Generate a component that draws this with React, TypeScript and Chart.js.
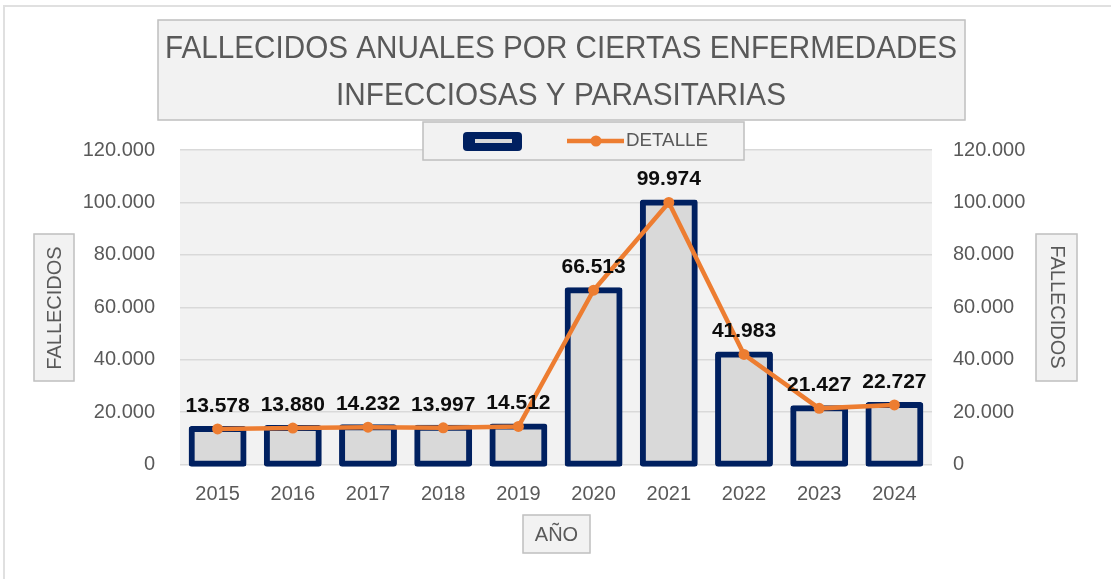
import React, { useEffect, useRef } from "react";
import { Chart, registerables } from "chart.js";

Chart.register(...registerables);

const categories = ["2015", "2016", "2017", "2018", "2019", "2020", "2021", "2022", "2023", "2024"];
const fallecidos = [13578, 13880, 14232, 13997, 14512, 66513, 99974, 41983, 21427, 22727];
const detalle = [13578, 13880, 14232, 13997, 14512, 66513, 99974, 41983, 21427, 22727];
const titleLines = ["FALLECIDOS ANUALES POR CIERTAS ENFERMEDADES", "INFECCIOSAS Y PARASITARIAS"];
const yAxisTitle = "FALLECIDOS";
const xAxisTitle = "AÑO";
const lineLabel = "DETALLE";
const yMin = 0;
const yMax = 120000;
const yStep = 20000;

const FONT = "'Liberation Sans', Arial, sans-serif";
const NAVY = "#002060";
const BAR_FILL = "#d9d9d9";
const ORANGE = "#ED7D31";
const TEXT_GRAY = "#595959";
const BOX_BG = "#f2f2f2";
const BOX_BORDER = "#bfbfbf";

const fmt = (v: number) => String(Math.round(v)).replace(/\B(?=(\d{3})+(?!\d))/g, ".");

function box(ctx: CanvasRenderingContext2D, x: number, y: number, w: number, h: number) {
  ctx.save();
  ctx.fillStyle = BOX_BG;
  ctx.fillRect(x, y, w, h);
  ctx.strokeStyle = BOX_BORDER;
  ctx.lineWidth = 1.5;
  ctx.strokeRect(x, y, w, h);
  ctx.restore();
}

const decorPlugin = {
  id: "decor",
  beforeDraw(chart: any) {
    const { ctx, chartArea } = chart;
    ctx.save();
    ctx.fillStyle = "#ffffff";
    ctx.fillRect(0, 0, chart.width, chart.height);
    ctx.strokeStyle = "#e0e0e0";
    ctx.lineWidth = 2;
    ctx.beginPath();
    ctx.moveTo(4, chart.height + 2);
    ctx.lineTo(4, 6);
    ctx.lineTo(chart.width + 2, 6);
    ctx.stroke();
    ctx.fillStyle = BOX_BG;
    ctx.fillRect(chartArea.left, chartArea.top, chartArea.right - chartArea.left, chartArea.bottom - chartArea.top);
    ctx.restore();
  },
  afterDatasetsDraw(chart: any) {
    const { ctx } = chart;
    const meta = chart.getDatasetMeta(0);
    const yScale = chart.scales.y;
    ctx.save();
    ctx.font = `bold 21px ${FONT}`;
    ctx.fillStyle = "#0d0d0d";
    ctx.textAlign = "center";
    ctx.textBaseline = "middle";
    meta.data.forEach((el: any, i: number) => {
      const v = fallecidos[i];
      ctx.fillText(fmt(v), el.x, yScale.getPixelForValue(v) - 23);
    });
    ctx.restore();
  },
  afterDraw(chart: any) {
    const { ctx } = chart;
    // Title
    box(ctx, 158, 20, 807, 100);
    ctx.save();
    ctx.fillStyle = TEXT_GRAY;
    ctx.textAlign = "center";
    ctx.textBaseline = "middle";
    ctx.font = `31px ${FONT}`;
    ctx.fillText(titleLines[0], 561, 49, 792);
    ctx.fillText(titleLines[1], 561, 96, 450);
    ctx.restore();

    // Legend
    box(ctx, 423, 122, 321, 38);
    ctx.save();
    ctx.fillStyle = NAVY;
    ctx.beginPath();
    (ctx as any).roundRect(463, 132, 59, 19, 4);
    ctx.fill();
    ctx.fillStyle = BAR_FILL;
    ctx.fillRect(475, 139, 37, 4);
    ctx.strokeStyle = ORANGE;
    ctx.lineWidth = 4.5;
    ctx.beginPath();
    ctx.moveTo(567, 141);
    ctx.lineTo(624, 141);
    ctx.stroke();
    ctx.fillStyle = ORANGE;
    ctx.beginPath();
    ctx.arc(596, 141, 5.5, 0, Math.PI * 2);
    ctx.fill();
    ctx.fillStyle = TEXT_GRAY;
    ctx.font = `19px ${FONT}`;
    ctx.textAlign = "left";
    ctx.textBaseline = "middle";
    ctx.fillText(lineLabel, 626, 141, 82);
    ctx.restore();

    // Left axis title
    box(ctx, 34, 234, 40, 147);
    ctx.save();
    ctx.translate(55, 308);
    ctx.rotate(-Math.PI / 2);
    ctx.fillStyle = TEXT_GRAY;
    ctx.font = `20px ${FONT}`;
    ctx.textAlign = "center";
    ctx.textBaseline = "middle";
    ctx.fillText(yAxisTitle, 0, 0, 124);
    ctx.restore();

    // Right axis title
    box(ctx, 1036, 234, 41, 147);
    ctx.save();
    ctx.translate(1057, 307);
    ctx.rotate(Math.PI / 2);
    ctx.fillStyle = TEXT_GRAY;
    ctx.font = `20px ${FONT}`;
    ctx.textAlign = "center";
    ctx.textBaseline = "middle";
    ctx.fillText(yAxisTitle, 0, 0, 124);
    ctx.restore();

    // X axis title
    box(ctx, 523, 515, 67, 38);
    ctx.save();
    ctx.fillStyle = TEXT_GRAY;
    ctx.font = `20px ${FONT}`;
    ctx.textAlign = "center";
    ctx.textBaseline = "middle";
    ctx.fillText(xAxisTitle, 556.5, 535);
    ctx.restore();
  },
};

export default function App() {
  const ref = useRef<HTMLCanvasElement | null>(null);

  useEffect(() => {
    if (!ref.current) return;
    const tickFont = { family: FONT, size: 20 };
    const chart = new Chart(ref.current, {
      type: "bar",
      data: {
        labels: categories,
        datasets: [
          {
            type: "line",
            label: lineLabel,
            data: detalle,
            yAxisID: "y1",
            borderColor: ORANGE,
            backgroundColor: ORANGE,
            borderWidth: 4.5,
            pointRadius: 5.5,
            pointBackgroundColor: ORANGE,
            pointBorderWidth: 0,
            tension: 0,
            order: 0,
            clip: false,
          } as any,
          {
            type: "bar",
            label: "",
            data: fallecidos,
            yAxisID: "y",
            backgroundColor: BAR_FILL,
            borderColor: NAVY,
            borderWidth: 6,
            borderRadius: 3,
            borderSkipped: false,
            inflateAmount: 3,
            barPercentage: 0.69,
            categoryPercentage: 1,
            order: 1,
            clip: false,
          } as any,
        ],
      },
      options: {
        responsive: false,
        animation: false,
        layout: { padding: { top: 150, left: 0, right: 0, bottom: 0 } },
        plugins: {
          legend: { display: false },
          title: { display: false },
          tooltip: { enabled: false },
        },
        scales: {
          x: {
            grid: { display: false, drawTicks: false },
            border: { display: false },
            ticks: { font: tickFont, color: TEXT_GRAY, padding: 18 },
            afterFit: (s: any) => {
              s.height = 579 - 464.5;
            },
          },
          y: {
            position: "left",
            min: yMin,
            max: yMax,
            grid: { color: "#d9d9d9", lineWidth: 1.5, drawTicks: false },
            border: { display: false },
            ticks: {
              stepSize: yStep,
              font: tickFont,
              color: TEXT_GRAY,
              padding: 25,
              callback: (v: any) => fmt(Number(v)),
            },
            afterFit: (s: any) => {
              s.width = 180;
            },
          },
          y1: {
            position: "right",
            min: yMin,
            max: yMax,
            grid: { display: false, drawTicks: false },
            border: { display: false },
            ticks: {
              stepSize: yStep,
              font: tickFont,
              color: TEXT_GRAY,
              padding: 21,
              callback: (v: any) => fmt(Number(v)),
            },
            afterFit: (s: any) => {
              s.width = 1111 - 932;
            },
          },
        },
      } as any,
      plugins: [decorPlugin],
    });
    return () => chart.destroy();
  }, []);

  return (
    <div style={{ position: "fixed", left: 0, top: 0, width: 1111, height: 579, background: "#fff" }}>
      <canvas ref={ref} width={1111} height={579} style={{ display: "block", width: 1111, height: 579 }} />
    </div>
  );
}
